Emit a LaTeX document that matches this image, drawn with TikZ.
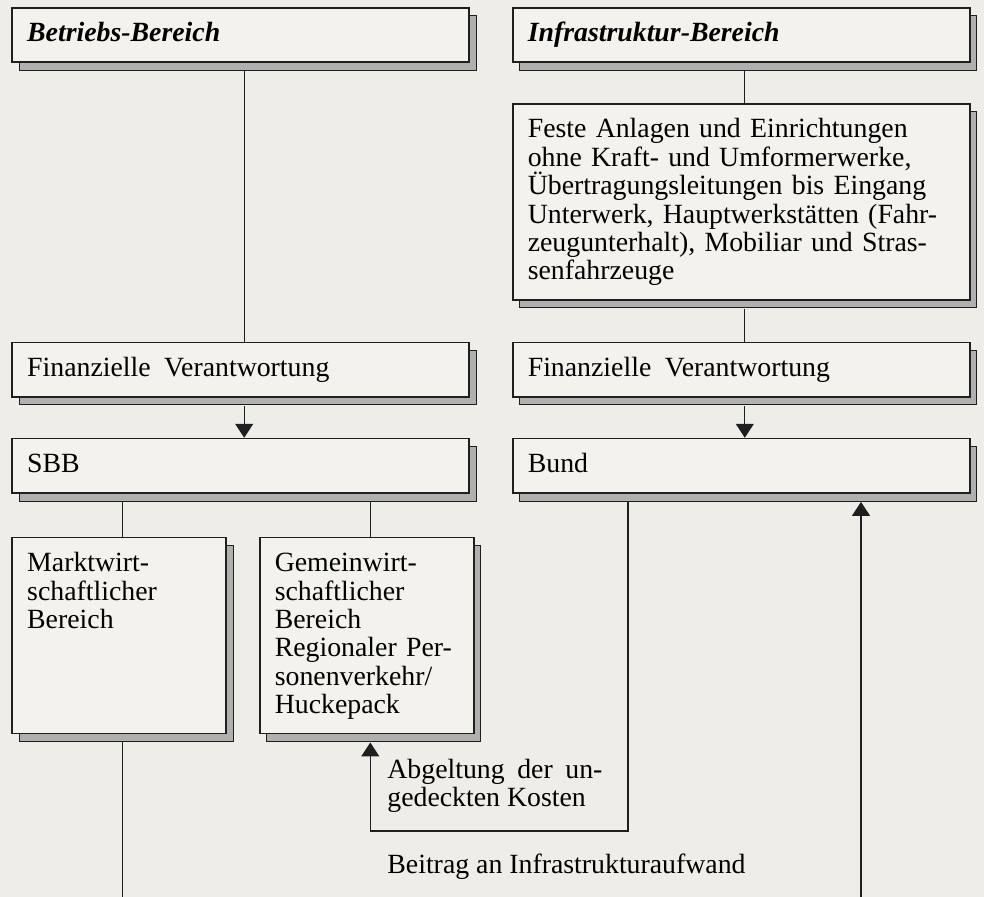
\documentclass[tikz,border=0pt]{standalone}
\usepackage{fontspec}
\setmainfont{Liberation Serif}
\usetikzlibrary{positioning,shadows,arrows.meta}
\definecolor{paper}{HTML}{EEEDE7}
\definecolor{boxfill}{HTML}{F3F2ED}
\definecolor{shade}{HTML}{B0B0AE}
\definecolor{ink}{HTML}{1F1F1F}

\begin{document}
\begin{tikzpicture}[
    x=0.5pt, y=0.5pt,
    font=\fontsize{13.9}{14.2}\selectfont,
    panel/.style={rectangle, draw=ink, fill=boxfill, line width=0.8pt, anchor=north west, align=left, inner xsep=7.5pt, inner ysep=0pt, text height=17pt, text depth=10.25pt, text width=213.5pt, copy shadow={shadow xshift=3.5pt, shadow yshift=-4pt, fill=shade, draw=ink, line width=0.5pt}},
    tall/.style={text depth=81pt},
    narrow/.style={text width=92pt, text depth=81pt},
    head/.style={font=\fontsize{13.9}{14.2}\selectfont\bfseries\itshape},
    link/.style={draw=ink, line width=0.55pt},
    arrow/.style={link, -{Triangle[width=9pt, length=7pt]}},
    note/.style={inner sep=0pt, align=left}
]
    \fill[paper, use as bounding box] (0,0) rectangle (984,897);

    % Infrastruktur column
    \node [panel, head] (infra) at (512,890) {Infrastruktur-Bereich};
    \node [panel, tall, below=20pt of infra] (feste) {Feste Anlagen und Einrichtungen\\ohne Kraft- und Umformerwerke,\\Übertragungsleitungen bis Eingang\\Unterwerk, Hauptwerkstätten (Fahr-\\zeugunterhalt), Mobiliar und Stras-\\senfahrzeuge};
    \node [panel, below=20.5pt of feste] (finR) {Finanzielle\hspace{0.15em} Verantwortung};
    \node [panel, below=20pt of finR] (bund) {Bund};

    % Betriebs column
    \node [panel, head, left=21pt of infra] (betrieb) {Betriebs-Bereich};
    \node [panel, left=21pt of finR] (finL) {Finanzielle\hspace{0.15em} Verantwortung};
    \node [panel, left=21pt of bund] (sbb) {SBB};
    \node [panel, narrow, below=21.5pt of sbb.south west, anchor=north west] (markt) {Marktwirt-\\schaftlicher\\Bereich};
    \node [panel, narrow, right=16pt of markt] (gemein) {Gemeinwirt-\\schaftlicher\\Bereich\\Regionaler Per-\\sonenverkehr/\\Huckepack};

    \draw [link] ([xshift=1.75pt, yshift=-4pt]betrieb.south) -- ([xshift=1.75pt]finL.north);
    \draw [arrow] ([xshift=1.75pt, yshift=-4pt]finL.south) -- ([xshift=1.75pt]sbb.north);
    \draw [link] ([xshift=1.75pt, yshift=-4pt]infra.south) -- ([xshift=1.75pt]feste.north);
    \draw [link] ([xshift=1.75pt, yshift=-4pt]feste.south) -- ([xshift=1.75pt]finR.north);
    \draw [arrow] ([xshift=1.75pt, yshift=-4pt]finR.south) -- ([xshift=1.75pt]bund.north);
    \draw [link] ([xshift=1.75pt, yshift=-4pt]markt.north |- sbb.south) -- ([xshift=1.75pt]markt.north);
    \draw [link] ([xshift=1.75pt, yshift=-4pt]gemein.north |- sbb.south) -- ([xshift=1.75pt]gemein.north);

    % flows at the bottom
    \coordinate (floor) at (0,0);
    \coordinate (abgTurn) at (628,66);
    \coordinate (beitragIn) at (861,0);
    \draw [link] ([xshift=1.75pt, yshift=-4pt]markt.south) -- ([xshift=1.75pt]markt.south |- floor);
    \draw [arrow] ([yshift=-4pt]abgTurn |- bund.south) -- (abgTurn) -| ([xshift=1.75pt, yshift=-4pt]gemein.south);
    \draw [arrow] (beitragIn) -- ([yshift=-4pt]beitragIn |- bund.south);

    \node [note, anchor=north west, text width=107.5pt, align=justify, text height=9pt] (abgeltung) at (387,137) {Abgeltung der un-\linebreak gedeckten Kosten};
    \node [note, anchor=base west] (beitrag) at (387,23) {Beitrag an Infrastrukturaufwand};
\end{tikzpicture}
\end{document}
